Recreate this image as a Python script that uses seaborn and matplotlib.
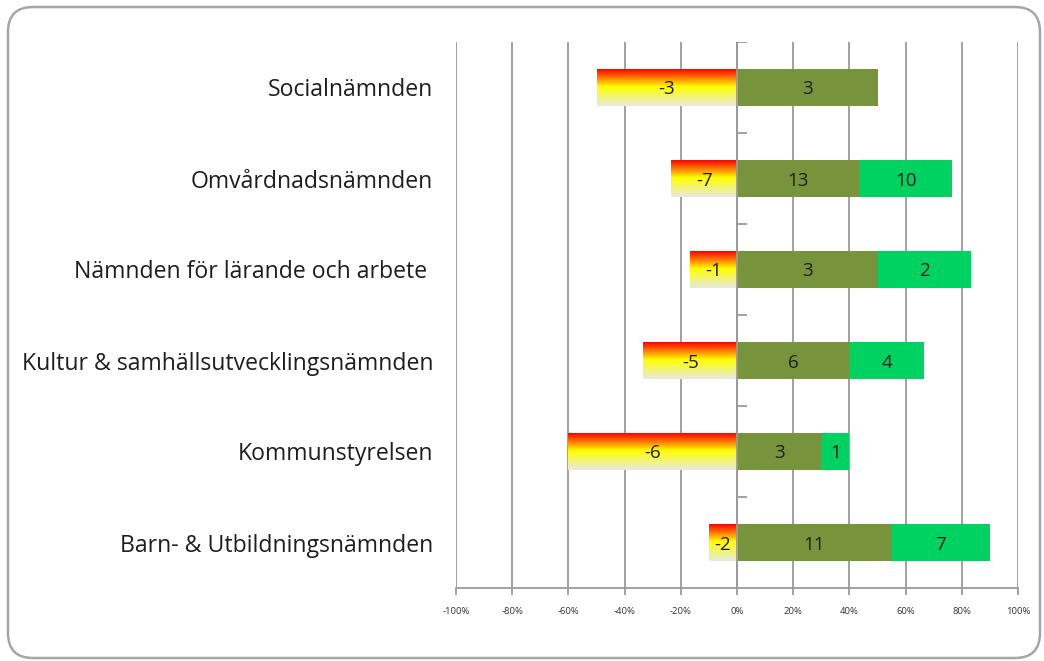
import numpy as np
import pandas as pd
import matplotlib
matplotlib.use("Agg")
import matplotlib.pyplot as plt
import matplotlib.ticker as mtick
from matplotlib.colors import LinearSegmentedColormap
from matplotlib.patches import FancyBboxPatch
import seaborn as sns

categories = [
    "Socialnämnden",
    "Omvårdnadsnämnden",
    "Nämnden för lärande och arbete ",
    "Kultur & samhällsutvecklingsnämnden",
    "Kommunstyrelsen",
    "Barn- & Utbildningsnämnden",
]
negative = [-3, -7, -1, -5, -6, -2]
positive = [3, 13, 3, 6, 3, 11]
very_positive = [0, 10, 2, 4, 1, 7]
x_ticks = [-100, -80, -60, -40, -20, 0, 20, 40, 60, 80, 100]

OLIVE = "#77933c"
GREEN = "#00d262"
GRID = "#9a9a9a"
TEXT = "#1e1e1e"

W, H = 1044, 661


def make_frame():
    df = pd.DataFrame({"namnd": categories, "neg": negative,
                       "pos": positive, "vpos": very_positive})
    total = df["neg"].abs() + df["pos"] + df["vpos"]
    df["neg_pct"] = df["neg"] / total * 100
    df["pos_pct"] = df["pos"] / total * 100
    df["vpos_pct"] = df["vpos"] / total * 100
    df["sum_pct"] = df["pos_pct"] + df["vpos_pct"]
    return df


def plot_chart(df):
    sns.set_theme(style="white")
    plt.rcParams["font.family"] = ["Open Sans", "DejaVu Sans"]
    plt.rcParams["axes.unicode_minus"] = False

    fig = plt.figure(figsize=(W / 100, H / 100), dpi=100)
    ax = fig.add_axes([456 / W, 1 - 588 / H, (1018 - 456) / W, (588 - 42) / H])

    bar_kw = dict(y="namnd", orient="h", width=0.4, saturation=1,
                  errorbar=None, linewidth=0, zorder=2, ax=ax)
    sns.barplot(data=df, x="sum_pct", color=GREEN, **bar_kw)
    sns.barplot(data=df, x="pos_pct", color=OLIVE, **bar_kw)
    sns.barplot(data=df, x="neg_pct", color="white", **bar_kw)

    # red -> yellow -> pale fill for the negative bars
    cmap = LinearSegmentedColormap.from_list(
        "neg", [(0, "#ff0000"), (0.06, "#ff2000"), (0.48, "#ffff00"),
                (1, "#e6eae2")])
    grad = np.linspace(0, 1, 256).reshape(-1, 1)
    for p in ax.containers[2]:
        bb = p.get_bbox()
        x0, x1 = sorted([bb.x0, bb.x1])
        y0, y1 = sorted([bb.y0, bb.y1])
        ax.imshow(grad, cmap=cmap, aspect="auto", extent=(x0, x1, y1, y0),
                  zorder=2.1, interpolation="bilinear")
        p.set_alpha(0)

    lbl = dict(ha="center", va="center_baseline", fontsize=13.5, color=TEXT,
               zorder=4)
    for i, row in df.iterrows():
        ax.text(row.neg_pct / 2, i, f"{row.neg}", **lbl)
        ax.text(row.pos_pct / 2, i, f"{row.pos}", **lbl)
        if row.vpos > 0:
            ax.text(row.pos_pct + row.vpos_pct / 2, i, f"{row.vpos}", **lbl)

    ax.set_xlim(-100, 100)
    ax.set_ylim(len(categories) - 0.5, -0.5)
    ax.set_xticks(x_ticks)
    ax.xaxis.set_major_formatter(mtick.PercentFormatter(decimals=0))
    ax.set_xlabel("")
    ax.set_ylabel("")
    ax.set_axisbelow(True)
    ax.xaxis.grid(True, color=GRID, linewidth=1.3)
    ax.yaxis.grid(False)
    for s in ["top", "right", "left"]:
        ax.spines[s].set_visible(False)
    ax.spines["bottom"].set_color(GRID)
    ax.spines["bottom"].set_linewidth(1.3)
    ax.tick_params(axis="x", bottom=True, length=5, width=1.3, color=GRID,
                   labelsize=6.8, pad=9, labelcolor="#333333")
    ax.tick_params(axis="y", left=False, length=0, pad=16.5, labelsize=16.6,
                   labelcolor=TEXT)

    # category axis sits at 0 with small marks between the groups
    ax.axvline(0, color=GRID, linewidth=1.3, zorder=3)
    ax.hlines(np.arange(len(categories)) - 0.5, 0, 3.5, color=GRID,
              linewidth=1.3, zorder=3)

    frame = FancyBboxPatch((0.08, 0.03), 10.32, 6.51,
                           boxstyle="round,pad=0,rounding_size=0.25",
                           transform=fig.dpi_scale_trans, facecolor="none",
                           edgecolor="#a6a6a6", linewidth=1.8)
    fig.patches.append(frame)

    fig.savefig("out.png", dpi=100)
    plt.close(fig)


if __name__ == "__main__":
    plot_chart(make_frame())
